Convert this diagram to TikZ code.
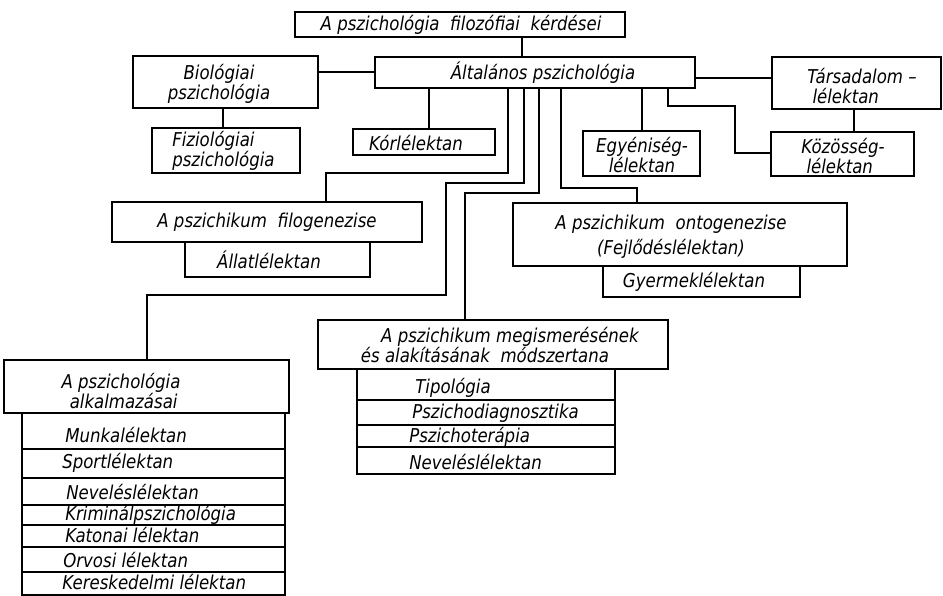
\documentclass[tikz,border=0pt]{standalone}
\usepackage{fontspec}
\newfontfamily\lab[FakeStretch=0.87]{DejaVu Sans}
\newcommand\labf[1]{\lab\itshape\fontsize{14.3}{#1}\selectfont}
\begin{document}
\begin{tikzpicture}[x=0.75pt,y=-0.75pt,
  box/.style={draw, line width=1.4pt, inner sep=0pt, outer sep=0pt},
  sz/.style 2 args={minimum width=#1*0.75pt, minimum height=#2*0.75pt},
  lbl/.style={inner sep=0pt, font=\labf{#1}},
  lbl/.default=14,
  conn/.style={line width=0.8pt}]
\useasboundingbox (0,0) rectangle (943,596);

% boxes
\node[box, sz={330}{25}] (top)  at (460,24.5) {};
\node[box, sz={320}{31}] (alt)  at (535,72.5) {};
\node[box, sz={185}{52}] (bio)  at (225.5,82) {};
\node[box, sz={148}{45}] (fiz)  at (226,150.5) {};
\node[box, sz={142}{26}] (kor)  at (424,142) {};
\node[box, sz={169}{52}] (tars) at (856.5,83) {};
\node[box, sz={143}{44}] (koz)  at (842.5,154) {};
\node[box, sz={117}{45}] (egy)  at (641.5,153.5) {};
\node[box, sz={310}{40}] (fil)  at (267,222) {};
\node[box, sz={185}{35}] (all)  at (277.5,259.5) {};
\node[box, sz={334}{63}] (ont)  at (680,234.5) {};
\node[box, sz={197}{31}] (gye)  at (701.5,281.5) {};
\node[box, sz={350}{49}] (meg)  at (493,344.5) {};
\node[box, sz={258}{31}] (m1)   at (486,384.5) {};
\node[box, sz={258}{25}] (m2)   at (486,412.5) {};
\node[box, sz={258}{22}] (m3)   at (486,436) {};
\node[box, sz={258}{27}] (m4)   at (486,460.5) {};
\node[box, sz={285}{53}] (alk)  at (146.5,386.5) {};
\node[box, sz={263}{36}] (a1)   at (153.5,431) {};
\node[box, sz={263}{29}] (a2)   at (153.5,463.5) {};
\node[box, sz={263}{27}] (a3)   at (153.5,491.5) {};
\node[box, sz={263}{20}] (a4)   at (153.5,515) {};
\node[box, sz={263}{22}] (a5)   at (153.5,536) {};
\node[box, sz={263}{25}] (a6)   at (153.5,559.5) {};
\node[box, sz={263}{23}] (a7)   at (153.5,583.5) {};

% labels
\node[lbl] (ttop) at (461,25) {A pszichológia \ filozófiai \ kérdései};
\node[lbl] (talt) at (543,73) {Általános pszichológia};
\node[lbl=15, align=center] (tbio) at (219,84) {Biológiai\\pszichológia};
\node[lbl=11.5, align=left, anchor=west] (tfiz) at (172,151) {Fiziológiai\\pszichológia};
\node[lbl] (tkor) at (416,143) {Kórlélektan};
\node[lbl=15, align=left, anchor=west] (ttars) at (807,86) {Társadalom –\\\ lélektan};
\node[lbl=13.5, align=left, anchor=west] (tkoz) at (801,156) {Közösség-\\\ lélektan};
\node[lbl=12.75, align=center] (tegy) at (642,155) {Egyéniség-\\lélektan};
\node[lbl] (tfil) at (267,222) {A pszichikum \ filogenezise};
\node[lbl] (tall) at (269,260) {Állatlélektan};
\node[lbl=18.75, align=center] (tont) at (671,237) {A pszichikum \ ontogenezise\\(Fejlődéslélektan)};
\node[lbl] (tgye) at (694,282) {Gyermeklélektan};
\node[lbl] (tmeg1) at (510,337) {A pszichikum megismerésének};
\node[lbl] (tmeg2) at (485,355) {és alakításának \ módszertana};
\node[lbl, anchor=west] (tm1) at (415,388) {Tipológia};
\node[lbl, anchor=west] (tm2) at (412,413) {Pszichodiagnosztika};
\node[lbl, anchor=west] (tm3) at (409,437) {Pszichoterápia};
\node[lbl, anchor=west] (tm4) at (409,462) {Neveléslélektan};
\node[lbl=15, align=center] (talk) at (121,391) {A pszichológia\\\ alkalmazásai};
\node[lbl, anchor=west] (ta1) at (65,435) {Munkalélektan};
\node[lbl, anchor=west] (ta2) at (62,463) {Sportlélektan};
\node[lbl, anchor=west] (ta3) at (66,492) {Neveléslélektan};
\node[lbl, anchor=west] (ta4) at (65,515) {Kriminálpszichológia};
\node[lbl, anchor=west] (ta5) at (65,535) {Katonai lélektan};
\node[lbl, anchor=west] (ta6) at (63,560) {Orvosi lélektan};
\node[lbl, anchor=west] (ta7) at (62,582) {Kereskedelmi lélektan};

% connectors
\draw[conn] (522,0 |- top.south) -- (522,0 |- alt.north);
\draw[conn] (bio.east |- 0,72) -- (alt.west |- 0,72);
\draw[conn] (223,0 |- bio.south) -- (223,0 |- fiz.north);
\draw[conn] (429,0 |- alt.south) -- (429,0 |- kor.north);
\draw[conn] (alt.east |- 0,78) -- (tars.west |- 0,78);
\draw[conn] (854,0 |- tars.south) -- (854,0 |- koz.north);
\draw[conn] (642,0 |- alt.south) -- (642,0 |- egy.north);
\draw[conn] (668,0 |- alt.south) -- (668,106) -- (735,106) -- (735,153) -- (koz.west |- 0,153);
\draw[conn] (508,0 |- alt.south) -- (508,173) -- (326,173) -- (326,0 |- fil.north);
\draw[conn] (524,0 |- alt.south) -- (524,183) -- (446,183) -- (446,295) -- (147,295) -- (147,0 |- alk.north);
\draw[conn] (539,0 |- alt.south) -- (539,193) -- (465,193) -- (465,0 |- meg.north);
\draw[conn] (561,0 |- alt.south) -- (561,188) -- (637,188) -- (637,0 |- ont.north);
\end{tikzpicture}
\end{document}
